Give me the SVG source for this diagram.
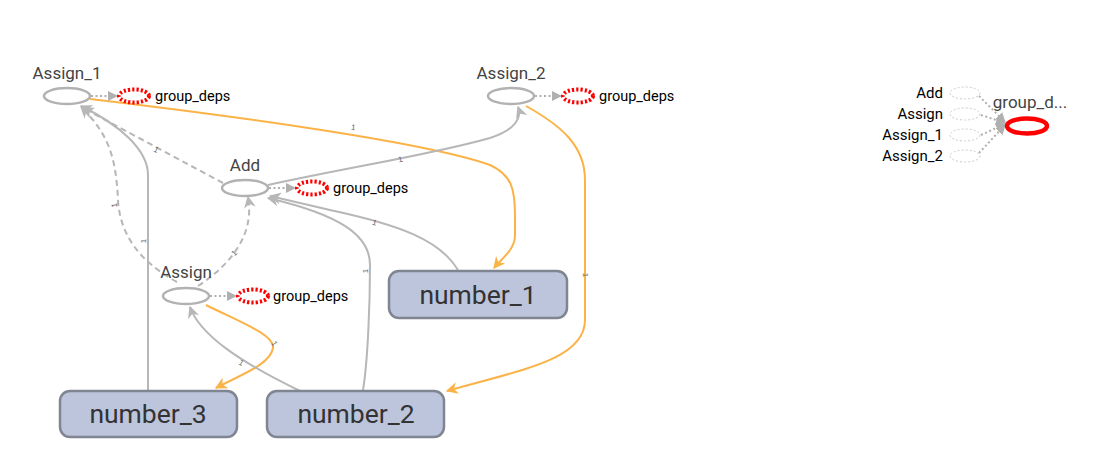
<svg xmlns="http://www.w3.org/2000/svg" width="1113" height="476" viewBox="0 0 1113 476">
<style>
.op{fill:#fff;stroke:#b2b2b2;stroke-width:2.5}
.deps{fill:#fff;stroke:#f00;stroke-width:4;stroke-dasharray:2.2 2}
.nm{font-family:Roboto,"Liberation Sans",sans-serif;font-size:17px;fill:#444;text-anchor:middle}
.dl{font-family:Roboto,"Liberation Sans",sans-serif;font-size:14.5px;fill:#000}
.box{fill:#bdc5dc;stroke:#7f8591;stroke-width:2.5}
.bt{font-family:Roboto,"Liberation Sans",sans-serif;font-size:26.5px;fill:#333;text-anchor:middle}
.g{fill:none;stroke:#b7b7b7;stroke-width:2}
.gd{fill:none;stroke:#b7b7b7;stroke-width:2;stroke-dasharray:6 4}
.o{fill:none;stroke:#fbb347;stroke-width:2}
.dot{fill:none;stroke:#b0b0b0;stroke-width:2;stroke-dasharray:2 2.5}
.el{font-family:"Liberation Sans",sans-serif;font-size:8px;fill:#666;text-anchor:middle}
.sm{fill:#fff;stroke:#ccc;stroke-width:1;stroke-dasharray:2 2}
.rl{font-family:Roboto,"Liberation Sans",sans-serif;font-size:15px;fill:#000;text-anchor:end}
</style>
<defs>
<marker id="ag" viewBox="0 0 10 10" refX="9" refY="5" markerWidth="12" markerHeight="12" markerUnits="userSpaceOnUse" orient="auto"><path d="M0,0 L10,5 L0,10 L3,5 z" fill="#b7b7b7"/></marker>
<marker id="ao" viewBox="0 0 10 10" refX="9" refY="5" markerWidth="12" markerHeight="12" markerUnits="userSpaceOnUse" orient="auto"><path d="M0,0 L10,5 L0,10 L3,5 z" fill="#fbb347"/></marker>
<marker id="ad" viewBox="0 0 10 10" refX="9" refY="5" markerWidth="10" markerHeight="10" markerUnits="userSpaceOnUse" orient="auto"><path d="M0,0 L10,5 L0,10 z" fill="#b0b0b0"/></marker>
</defs>

<g id="connectors">
<path class="o" d="M90,99 C200,112 420,140 490,165 C512,175 515,190 515,215 L515,235 C515,250 502,258 494,268" marker-end="url(#ao)"/>
<path class="o" d="M526,106 C560,125 585,145 585,180 L585,320 C585,360 520,370 447,391" marker-end="url(#ao)"/>
<path class="o" d="M206,305 C240,322 275,335 273,348 C270,365 240,375 216,388" marker-end="url(#ao)"/>
<path class="g" d="M148,390 L148,175 C148,150 120,125 81,106" marker-end="url(#ag)"/>
<path class="gd" d="M177,282 C140,262 120,235 118,200 C116,160 110,135 81,107" marker-end="url(#ag)"/>
<path class="gd" d="M223,183 L83,108" marker-end="url(#ag)"/>
<path class="gd" d="M198,286 C230,265 255,235 248,197" marker-end="url(#ag)"/>
<path class="g" d="M268,185 C360,165 430,155 490,138 C515,130 522,118 518,107" marker-end="url(#ag)"/>
<path class="g" d="M458,270 C440,240 400,225 330,210 L270,196" marker-end="url(#ag)"/>
<path class="g" d="M363,390 C368,360 370,300 370,265 C370,235 340,215 268,198" marker-end="url(#ag)"/>
<path class="g" d="M300,391 C240,362 200,335 190,307" marker-end="url(#ag)"/>
<path class="dot" d="M91,96 L117,96" marker-end="url(#ad)"/>
<path class="dot" d="M535,96 L561,96" marker-end="url(#ad)"/>
<path class="dot" d="M269,188 L295,188" marker-end="url(#ad)"/>
<path class="dot" d="M210,296 L236,296" marker-end="url(#ad)"/>
<path class="dot" d="M979,96 L1005,122" marker-end="url(#ad)"/>
<path class="dot" d="M981,115 L1005,123" marker-end="url(#ad)"/>
<path class="dot" d="M981,135 L1005,124" marker-end="url(#ad)"/>
<path class="dot" d="M979,153 L1005,125" marker-end="url(#ad)"/>
<text class="el" transform="translate(353,130) rotate(8)">1</text>
<text class="el" transform="translate(583,275) rotate(90)">1</text>
<text class="el" transform="translate(272,345) rotate(60)">1</text>
<text class="el" transform="translate(146,241) rotate(-90)">1</text>
<text class="el" transform="translate(117,205) rotate(-95)">1</text>
<text class="el" transform="translate(155,152) rotate(28)">1</text>
<text class="el" transform="translate(236,255) rotate(-45)">1</text>
<text class="el" transform="translate(401,162) rotate(-12)">1</text>
<text class="el" transform="translate(374,225) rotate(15)">1</text>
<text class="el" transform="translate(368,271) rotate(-90)">1</text>
<text class="el" transform="translate(240,365) rotate(30)">1</text>
</g>

<g id="Assign_1">
<text class="nm" x="67" y="79">Assign_1</text>
<ellipse class="op" cx="67" cy="96" rx="23" ry="8"/>
</g>
<g id="Assign_1_group_deps">
<ellipse class="deps" cx="134" cy="96" rx="15" ry="6.5"/>
<text class="dl" x="155" y="101">group_deps</text>
</g>
<g id="Assign_2">
<text class="nm" x="511" y="79">Assign_2</text>
<ellipse class="op" cx="511" cy="96" rx="23" ry="8"/>
</g>
<g id="Assign_2_group_deps">
<ellipse class="deps" cx="578" cy="96" rx="15" ry="6.5"/>
<text class="dl" x="599" y="101">group_deps</text>
</g>
<g id="Add">
<text class="nm" x="245" y="171">Add</text>
<ellipse class="op" cx="245" cy="188" rx="23" ry="8"/>
</g>
<g id="Add_group_deps">
<ellipse class="deps" cx="312" cy="188" rx="15" ry="6.5"/>
<text class="dl" x="333" y="193">group_deps</text>
</g>
<g id="Assign">
<text class="nm" x="186" y="278">Assign</text>
<ellipse class="op" cx="186" cy="296" rx="23" ry="8"/>
</g>
<g id="Assign_group_deps">
<ellipse class="deps" cx="253" cy="296" rx="15" ry="6.5"/>
<text class="dl" x="273" y="301">group_deps</text>
</g>
<g id="number_1">
<rect class="box" x="389" y="271" width="178" height="47" rx="10"/>
<text class="bt" x="478" y="304">number_1</text>
</g>
<g id="number_3">
<rect class="box" x="60" y="391" width="177" height="46" rx="10"/>
<text class="bt" x="148" y="423">number_3</text>
</g>
<g id="number_2">
<rect class="box" x="267" y="391" width="177" height="46" rx="10"/>
<text class="bt" x="356" y="423">number_2</text>
</g>
<g id="group_deps_main">
<text class="nm" x="1030" y="108">group_d...</text>
<ellipse cx="1027" cy="126" rx="20" ry="7.5" fill="#fff" stroke="#f00" stroke-width="4.5"/>
</g>
<g id="aux_inputs">
<ellipse class="sm" cx="965" cy="93" rx="15" ry="6"/>
<ellipse class="sm" cx="965" cy="114" rx="15" ry="6"/>
<ellipse class="sm" cx="965" cy="135" rx="15" ry="6"/>
<ellipse class="sm" cx="965" cy="156" rx="15" ry="6"/>
<text class="rl" x="943" y="98">Add</text>
<text class="rl" x="943" y="119">Assign</text>
<text class="rl" x="943" y="140">Assign_1</text>
<text class="rl" x="943" y="161">Assign_2</text>
</g>
</svg>
